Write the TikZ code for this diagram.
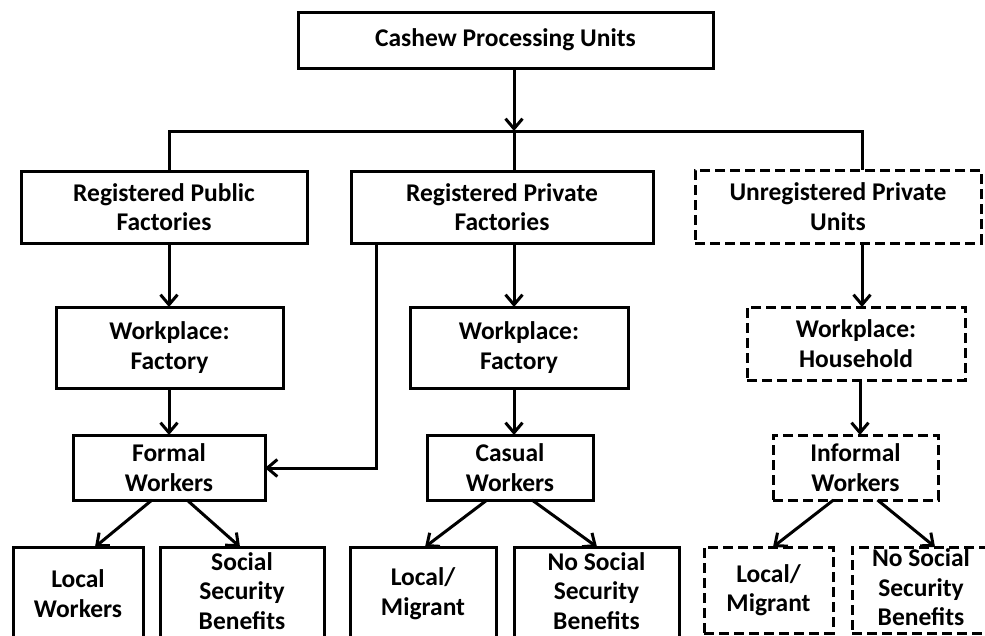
\documentclass[tikz,border=0pt]{standalone}
\usepackage{fontspec}
\setmainfont{Carlito}
\usetikzlibrary{arrows.meta}
\newcommand{\liftstrut}{\rule[-5pt]{0pt}{0pt}}
\begin{document}
\begin{tikzpicture}[x=1pt,y=-1pt,
  box/.style={draw, line width=3pt, align=center, inner sep=0pt, outer sep=0pt,
    font=\fontsize{25.5}{29.5}\selectfont\bfseries},
  dbox/.style={box, dash pattern=on 10pt off 5pt},
  conn/.style={line width=3pt},
  arr/.style={line width=3pt, -{Straight Barb[length=10pt,width=17pt]}}]
\useasboundingbox (0,0) rectangle (985,635);
\clip (0,0) rectangle (985,635);
\fill[white] (0,0) rectangle (985,635);
% boxes
\node[box, minimum width=415pt, minimum height=56pt] (top) at (505.5,40) {Cashew Processing Units};
\node[box, minimum width=286pt, minimum height=72pt] (rpub) at (164,207) {Registered Public\\Factories};
\node[box, minimum width=302pt, minimum height=72pt] (rpriv) at (502,207) {Registered Private\\Factories};
\node[dbox, minimum width=286pt, minimum height=73pt] (urpu) at (838,206.5) {Unregistered Private\\Units};
\node[box, minimum width=227pt, minimum height=81pt] (wf1) at (169.5,347.5) {Workplace:\\Factory};
\node[box, minimum width=218pt, minimum height=81pt] (wf2) at (519,347.5) {Workplace:\\Factory};
\node[dbox, minimum width=218pt, minimum height=73pt] (wh) at (856,343.5) {Workplace:\\Household};
\node[box, minimum width=192pt, minimum height=65pt] (formal) at (169,467.5) {Formal\\Workers};
\node[box, minimum width=166pt, minimum height=65pt] (casual) at (510,467.5) {Casual\\Workers};
\node[dbox, minimum width=165pt, minimum height=65pt] (informal) at (855.5,467.5) {Informal\\Workers};
\node[box, minimum width=130pt, minimum height=93pt] (lw) at (78,593.5) {Local\\Workers};
\node[box, minimum width=164pt, minimum height=93pt] (ssb) at (242,593.5) {Social\\Security\\Benefits\liftstrut};
\node[box, minimum width=146pt, minimum height=93pt] (lm2) at (423,593.5) {Local/\\Migrant};
\node[box, minimum width=165pt, minimum height=93pt] (nsb2) at (596.5,593.5) {No Social\\Security\\Benefits\liftstrut};
\node[dbox, minimum width=129pt, minimum height=86pt] (lm3) at (768.5,590) {Local/\\Migrant};
\node[dbox, minimum width=138pt, minimum height=86pt] (nsb3) at (921,590) {No Social\\Security\\Benefits\liftstrut};
% bus
\coordinate (bl) at (169,131);
\coordinate (bm) at (514,131);
\coordinate (br) at (862,131);
\draw[arr] (top.south -| bm) -- (bm);
\draw[conn] (bl |- rpub.north) -- (bl) -- (br) -- (br |- urpu.north);
\draw[conn] (bm) -- (bm |- rpriv.north);
% vertical arrows
\draw[arr] (bl |- rpub.south) -- (bl |- wf1.north);
\draw[arr] (bm |- rpriv.south) -- (bm |- wf2.north);
\draw[arr] (br |- urpu.south) -- (br |- wh.north);
\draw[arr] (bl |- wf1.south) -- (bl |- formal.north);
\draw[arr] (bm |- wf2.south) -- (bm |- casual.north);
\draw[arr] ([xshift=4pt]wh.south) -- ([xshift=4.5pt]informal.north);
% elbow
\coordinate (el) at (376,468);
\draw[arr] (el |- rpriv.south) -- (el) -- (el -| formal.east);
% diagonals
\draw[arr] ([xshift=-17pt]formal.south) -- ([xshift=17pt]lw.north);
\draw[arr] ([xshift=18pt]formal.south) -- ([xshift=-2pt]ssb.north);
\draw[arr] ([xshift=-23pt]casual.south) -- ([xshift=2pt]lm2.north);
\draw[arr] ([xshift=22pt]casual.south) -- ([xshift=0.5pt]nsb2.north);
\draw[arr] ([xshift=-22pt]informal.south) -- ([xshift=4.5pt]lm3.north);
\draw[arr] ([xshift=22pt]informal.south) -- ([xshift=14pt]nsb3.north);
\end{tikzpicture}
\end{document}
